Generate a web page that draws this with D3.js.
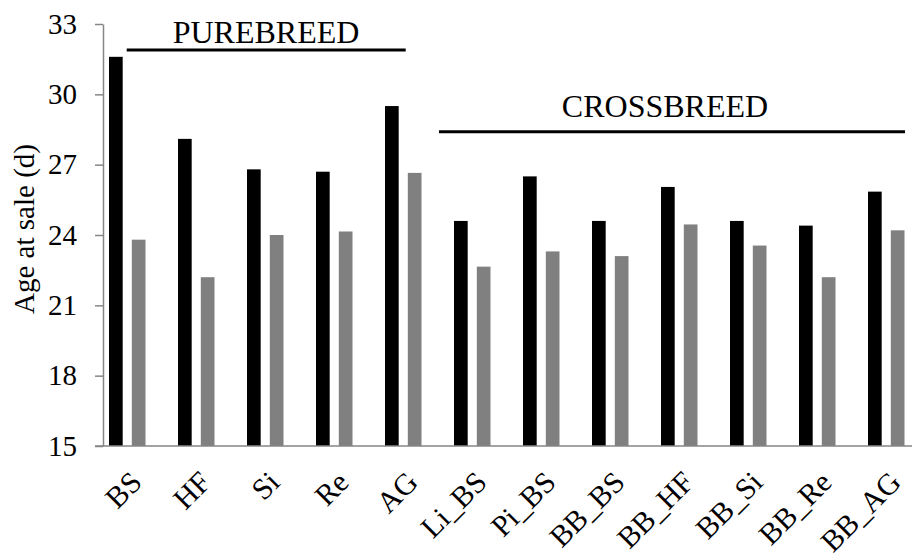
<!DOCTYPE html>
<html>
<head>
<meta charset="utf-8">
<script src="https://cdn.jsdelivr.net/npm/d3@7"></script>
<style>
  html, body { margin: 0; padding: 0; background: #fff; }
  svg { display: block; }
  text { font-family: "Liberation Serif", "Times New Roman", serif; fill: #000; }
</style>
</head>
<body>
<svg id="chart" width="912" height="557"></svg>
<script>
// Breed groups on the x axis
const categories = ["BS", "HF", "Si", "Re", "AG", "Li_BS", "Pi_BS", "BB_BS", "BB_HF", "BB_Si", "BB_Re", "BB_AG"];
// Age at sale (d) for the two series drawn per breed
const seriesBlack = [31.6, 28.1, 26.8, 26.7, 29.5, 24.6, 26.5, 24.6, 26.05, 24.6, 24.4, 25.85];
const seriesGray  = [23.8, 22.2, 24.0, 24.15, 26.65, 22.65, 23.3, 23.1, 24.45, 23.55, 22.2, 24.2];
const yTicks = [15, 18, 21, 24, 27, 30, 33];
const yLabel = "Age at sale (d)";
const groups = [
  { label: "PUREBREED", from: "BS", to: "AG" },
  { label: "CROSSBREED", from: "Li_BS", to: "BB_AG" }
];

const svg = d3.select("#chart");
const plotLeft = 103, plotTop = 24, plotBottom = 446, step = 69;

const x = d3.scaleBand()
  .domain(categories)
  .range([plotLeft, plotLeft + step * categories.length])
  .paddingInner(0).paddingOuter(0);

const x1 = d3.scaleBand()
  .domain(["black", "gray"])
  .range([6, 42.5])
  .paddingInner(0.4).paddingOuter(0);

const y = d3.scaleLinear().domain([15, 33]).range([plotBottom, plotTop]);

const rows = categories.map((c, i) => ({ cat: c, black: seriesBlack[i], gray: seriesGray[i] }));
const colors = { black: "#000000", gray: "#808080" };

// bars
const g = svg.append("g");
rows.forEach(r => {
  ["black", "gray"].forEach(k => {
    g.append("rect")
      .attr("x", x(r.cat) + x1(k))
      .attr("y", y(r[k]))
      .attr("width", x1.bandwidth())
      .attr("height", y(15) - y(r[k]))
      .attr("fill", colors[k]);
  });
});

// y axis
const yAxis = d3.axisLeft(y).tickValues(yTicks).tickSize(8).tickPadding(18).tickSizeOuter(0);
const ya = svg.append("g").attr("transform", `translate(${plotLeft},0)`).call(yAxis);
ya.select(".domain").attr("stroke", "#868686").attr("stroke-width", 1.5);
ya.selectAll(".tick line").attr("stroke", "#868686").attr("stroke-width", 1.5);
ya.selectAll(".tick text").attr("font-size", 29).attr("fill", "#000");

// x axis baseline
svg.append("line")
  .attr("x1", plotLeft - 8).attr("x2", 912)
  .attr("y1", y(15)).attr("y2", y(15))
  .attr("stroke", "#868686").attr("stroke-width", 1.5);

// rotated category labels
svg.append("g").selectAll("text")
  .data(categories)
  .join("text")
  .attr("transform", d => `translate(${x(d) + x.bandwidth() / 2 + 6},484) rotate(-45)`)
  .attr("text-anchor", "end")
  .attr("font-size", 30)
  .text(d => d);

// y axis title
svg.append("text")
  .attr("transform", `translate(34,229) rotate(-90)`)
  .attr("text-anchor", "middle")
  .attr("font-size", 29)
  .text(yLabel);

// group brackets
const groupLayout = [
  { x0: 126.7, x1: 405.7, lineY: 50, textX: 266, textY: 43 },
  { x0: 439, x1: 905, lineY: 131.7, textX: 665, textY: 117 }
];
groups.forEach((gr, i) => {
  const L = groupLayout[i];
  svg.append("line")
    .attr("x1", L.x0).attr("x2", L.x1)
    .attr("y1", L.lineY).attr("y2", L.lineY)
    .attr("stroke", "#000").attr("stroke-width", 3);
  svg.append("text")
    .attr("x", L.textX).attr("y", L.textY)
    .attr("text-anchor", "middle")
    .attr("font-size", 32)
    .text(gr.label);
});
</script>
</body>
</html>
